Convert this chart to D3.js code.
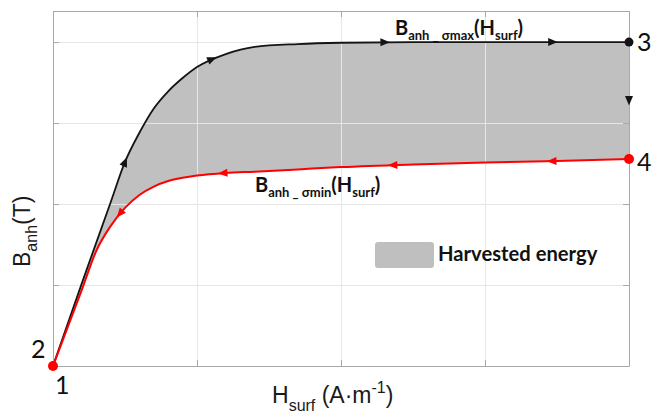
<!DOCTYPE html>
<html>
<head>
<meta charset="utf-8">
<script src="https://cdn.jsdelivr.net/npm/d3@7"></script>
<style>
  html, body { margin: 0; padding: 0; background: #ffffff; }
  svg { display: block; }
</style>
</head>
<body>
<svg id="chart" width="653" height="416"></svg>
<script>
// Surface field H (normalised units) and anhysteretic induction curves
const hValues = [0, 0.2, 0.3, 0.4, 0.5, 0.6, 0.7, 0.8, 0.9, 1.0, 1.2, 1.4, 1.7, 2.0, 2.5, 3.0, 3.5, 4.0];
const bSigmaMax = [0, 0.255, 0.380, 0.505, 0.630, 0.720, 0.795, 0.848, 0.889, 0.923, 0.963, 0.985, 0.994, 0.998, 1.0, 1.0, 1.0, 1.0];
const bSigmaMin = [0, 0.235, 0.355, 0.432, 0.488, 0.528, 0.554, 0.571, 0.581, 0.588, 0.596, 0.600, 0.607, 0.614, 0.622, 0.628, 0.633, 0.639];

// Axis ticks (no numeric labels shown)
const xTicks = [0, 1, 2, 3, 4];
const yTicks = [0, 0.25, 0.5, 0.75, 1.0];

// Where the direction arrows sit along each curve (H positions)
const maxArrowH = [0.5, 1.104, 2.305, 3.47];
const minArrowH = [0.465, 1.18, 2.36, 3.465];
const dropArrowB = 0.82;   // downward arrow on the H = Hmax segment (3 -> 4)

// Cycle corner points
const cyclePoints = [
  { name: "1", h: 0, b: 0 },
  { name: "2", h: 0, b: 0 },
  { name: "3", h: 4, b: 1.0 },
  { name: "4", h: 4, b: 0.639 }
];

const svg = d3.select("#chart");
const plotLeft = 53, plotRight = 629, plotTop = 11, plotBottom = 366;

const x = d3.scaleLinear().domain([0, 4]).range([plotLeft, plotRight]);
const y = d3.scaleLinear().domain([0, 1.096]).range([plotBottom, plotTop]);

const maxData = hValues.map((h, i) => ({ h, b: bSigmaMax[i] }));
const minData = hValues.map((h, i) => ({ h, b: bSigmaMin[i] }));
const bandData = hValues.map((h, i) => ({ h, hi: bSigmaMax[i], lo: bSigmaMin[i] }));

const curve = d3.curveMonotoneX;

// Harvested-energy band
svg.append("path")
  .datum(bandData)
  .attr("fill", "#c0c0c0")
  .attr("d", d3.area().curve(curve).x(d => x(d.h)).y0(d => y(d.lo)).y1(d => y(d.hi)));

// Grid
const grid = svg.append("g").attr("stroke", "#e6e6e6").attr("stroke-width", 1);
grid.selectAll("line.gx").data(xTicks.slice(1, -1)).join("line")
  .attr("x1", d => Math.round(x(d)) + 0.5).attr("x2", d => Math.round(x(d)) + 0.5)
  .attr("y1", plotTop).attr("y2", plotBottom);
grid.selectAll("line.gy").data(yTicks.slice(1)).join("line")
  .attr("y1", d => Math.round(y(d)) + 0.5).attr("y2", d => Math.round(y(d)) + 0.5)
  .attr("x1", plotLeft).attr("x2", plotRight);

// Box axes with inward ticks on every side
const axisColor = "#a8a8a8";
function styleAxis(g) {
  g.select(".domain").attr("stroke", axisColor);
  g.selectAll(".tick line").attr("stroke", axisColor);
  g.selectAll(".tick text").remove();
}
svg.append("g").attr("transform", `translate(0,${plotBottom})`)
  .call(d3.axisBottom(x).tickValues(xTicks).tickSize(-6).tickSizeOuter(0)).call(styleAxis);
svg.append("g").attr("transform", `translate(0,${plotTop})`)
  .call(d3.axisTop(x).tickValues(xTicks).tickSize(-6).tickSizeOuter(0)).call(styleAxis);
svg.append("g").attr("transform", `translate(${plotLeft},0)`)
  .call(d3.axisLeft(y).tickValues(yTicks).tickSize(-6).tickSizeOuter(0)).call(styleAxis);
svg.append("g").attr("transform", `translate(${plotRight},0)`)
  .call(d3.axisRight(y).tickValues(yTicks).tickSize(-6).tickSizeOuter(0)).call(styleAxis);

// Curves
const line = d3.line().curve(curve).x(d => x(d.h)).y(d => y(d.b));
const maxPath = svg.append("path").datum(maxData)
  .attr("fill", "none").attr("stroke", "#141414").attr("stroke-width", 1.8).attr("d", line);
const minPath = svg.append("path").datum(minData)
  .attr("fill", "none").attr("stroke", "#ff0000").attr("stroke-width", 2).attr("d", line);

// Locate a point on a path at a given x, plus the local direction
function pointAtX(pathNode, px) {
  const total = pathNode.getTotalLength();
  let lo = 0, hi = total;
  for (let i = 0; i < 40; i++) {
    const mid = (lo + hi) / 2;
    if (pathNode.getPointAtLength(mid).x < px) lo = mid; else hi = mid;
  }
  const l = (lo + hi) / 2;
  const p = pathNode.getPointAtLength(l);
  const a = pathNode.getPointAtLength(Math.max(0, l - 2));
  const b = pathNode.getPointAtLength(Math.min(total, l + 2));
  return { x: p.x, y: p.y, angle: Math.atan2(b.y - a.y, b.x - a.x) * 180 / Math.PI };
}

const arrowShape = "M5,0 L-4.5,-4 L-4.5,4 Z";
function drawArrows(pathNode, hs, color, reverse) {
  hs.forEach(h => {
    const p = pointAtX(pathNode, x(h));
    const ang = reverse ? p.angle + 180 : p.angle;
    svg.append("path").attr("d", arrowShape).attr("fill", color)
      .attr("transform", `translate(${p.x},${p.y}) rotate(${ang})`);
  });
}
drawArrows(maxPath.node(), maxArrowH, "#141414", false);
drawArrows(minPath.node(), minArrowH, "#ff0000", true);

// Downward arrow on the closing segment 3 -> 4
svg.append("path").attr("d", arrowShape).attr("fill", "#141414")
  .attr("transform", `translate(${x(4)},${y(dropArrowB)}) rotate(90)`);

// Corner points
svg.append("circle").attr("cx", x(4)).attr("cy", y(1.0)).attr("r", 4.5).attr("fill", "#141414");
svg.append("circle").attr("cx", x(4)).attr("cy", y(0.639)).attr("r", 5).attr("fill", "#ff0000");
svg.append("circle").attr("cx", x(0)).attr("cy", y(0)).attr("r", 5).attr("fill", "#ff0000");

// Point numbers
const numFont = "Lato, 'Open Sans', sans-serif";
const numOffsets = { "1": [2, 28], "2": [-22, -8], "3": [8, 9], "4": [8, 12] };
svg.selectAll("text.num").data(cyclePoints).join("text")
  .attr("x", d => x(d.h) + numOffsets[d.name][0])
  .attr("y", d => y(d.b) + numOffsets[d.name][1])
  .attr("font-family", numFont).attr("font-size", 25).attr("fill", "#111")
  .text(d => d.name);

// Curve labels
const boldFont = "Lato, 'Open Sans', sans-serif";
function curveLabel(px, py, sub) {
  const t = svg.append("text").attr("x", px).attr("y", py)
    .attr("font-family", boldFont).attr("font-weight", "bold").attr("fill", "#111");
  t.append("tspan").attr("font-size", 20).text("B");
  t.append("tspan").attr("font-size", 13).attr("dy", 5).text("anh _ " + sub);
  t.append("tspan").attr("font-size", 20).attr("dy", -5).text("(H");
  t.append("tspan").attr("font-size", 13).attr("dy", 5).text("surf");
  t.append("tspan").attr("font-size", 20).attr("dy", -5).text(")");
}
curveLabel(395, 35, "σmax");
curveLabel(255, 192, "σmin");

// Legend
svg.append("rect").attr("x", 375).attr("y", 242).attr("width", 59).attr("height", 26)
  .attr("rx", 3).attr("fill", "#bfbfbf");
svg.append("text").attr("x", 438).attr("y", 261)
  .attr("font-family", boldFont).attr("font-weight", "bold").attr("font-size", 20.2).attr("fill", "#111")
  .text("Harvested energy");

// Axis titles
const axisFont = "'Liberation Sans', Arial, sans-serif";
const xt = svg.append("text").attr("x", 272).attr("y", 403)
  .attr("font-family", axisFont).attr("font-size", 23).attr("fill", "#1a1a1a");
xt.append("tspan").text("H");
xt.append("tspan").attr("font-size", 16).attr("dy", 8).text("surf");
xt.append("tspan").attr("dy", -8).text(" (A·m");
xt.append("tspan").attr("font-size", 16).attr("dy", -10).text("-1");
xt.append("tspan").attr("dy", 10).text(")");

const yt = svg.append("text").attr("transform", "translate(30,267) rotate(-90)")
  .attr("font-family", axisFont).attr("font-size", 23).attr("fill", "#1a1a1a");
yt.append("tspan").text("B");
yt.append("tspan").attr("font-size", 16).attr("dy", 7).text("anh");
yt.append("tspan").attr("dy", -7).text("(T)");
</script>
</body>
</html>
